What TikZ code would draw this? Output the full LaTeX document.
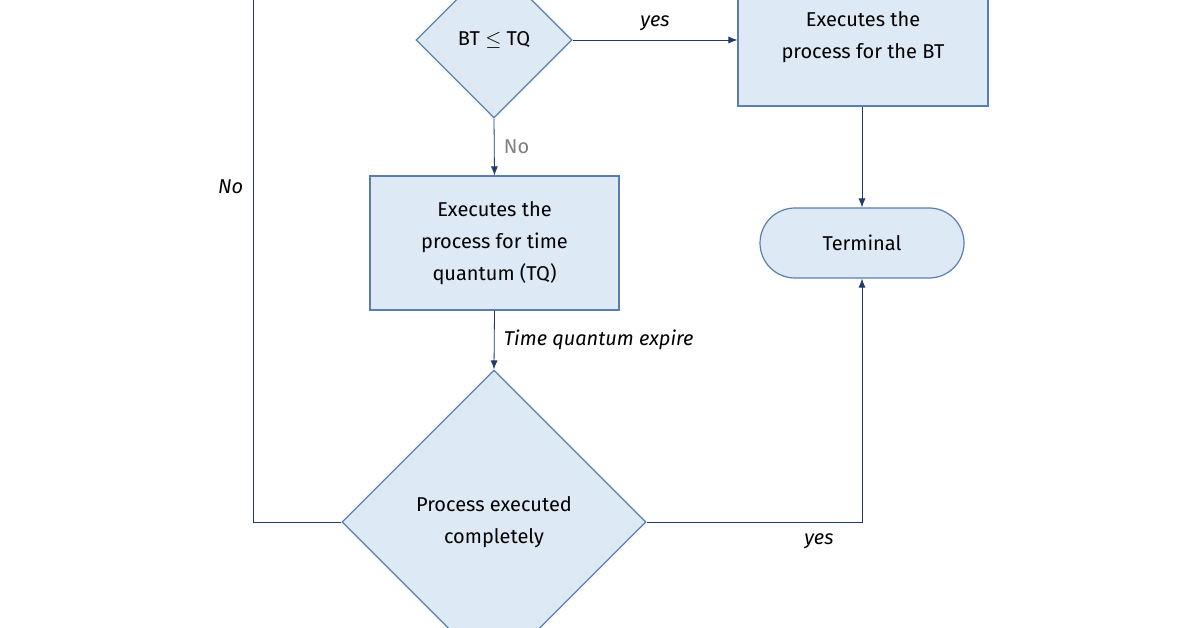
\documentclass[tikz,border=0pt]{standalone}
\usepackage{fontspec}
\setmainfont{Fira Sans}
\usetikzlibrary{shapes.geometric,positioning,arrows.meta}
\definecolor{boxfill}{HTML}{DDEAF6}
\definecolor{boxline}{HTML}{5A7FAF}
\definecolor{arrowc}{HTML}{1F3A6B}
\begin{document}
\begin{tikzpicture}[
   x=1pt,y=-1pt,
   every node/.style={font=\fontsize{20}{32}\selectfont},
   block/.style={draw=boxline,fill=boxfill,very thick,align=center,inner sep=0pt},
   decision/.style={diamond,draw=boxline,fill=boxfill,very thick,align=center,aspect=1,inner sep=0pt},
   terminal/.style={draw=boxline,fill=boxfill,very thick,rounded corners=35pt,align=center},
   to/.style={-{Latex[length=9pt,width=7pt]},thick,draw=arrowc},
   link/.style={thick,draw=arrowc},
   lbl/.style={font=\fontsize{20}{24}\selectfont\itshape}]
\useasboundingbox (0,0) rectangle (1196,628);
\node[decision,minimum width=156,minimum height=156] (BT) at (494,40) {BT $\leq$ TQ};
\node[block,minimum width=250,minimum height=170] (EB) at (863,21) {};
\node[align=center] (EBt) at (863,37) {Executes the\\process for the BT};
\node[block,minimum width=249,minimum height=134] (EQ) at (494.5,243) {Executes the\\process for time\\quantum (TQ)};
\node[decision,minimum width=304,minimum height=304] (PE) at (494,522) {Process executed\\completely};
\node[terminal,minimum width=204,minimum height=70] (T) at (862,243) {Terminal};
\coordinate (top) at (253,-10);
\coordinate (br) at (862,522);
\draw[to]  (BT.east) -- node[lbl,above=6pt,pos=.5] {yes} (EB.west |- BT.east);
\draw[to]  (BT.south) -- node[right=6pt,text=gray] {No} (EQ.north);
\draw[to]  (EQ.south) -- node[lbl,right=6pt] {Time quantum expire} (PE.north);
\draw[to]  (EB.south -| T.north) -- (T.north);
\draw[link] (PE.west) -- (PE.west -| top) -- node[lbl,left=6pt,pos=.63] {No} (top);
\draw[to]  (PE.east) -- node[lbl,below=8pt,pos=.8] {yes} (br) -- (T.south);
\end{tikzpicture}
\end{document}
